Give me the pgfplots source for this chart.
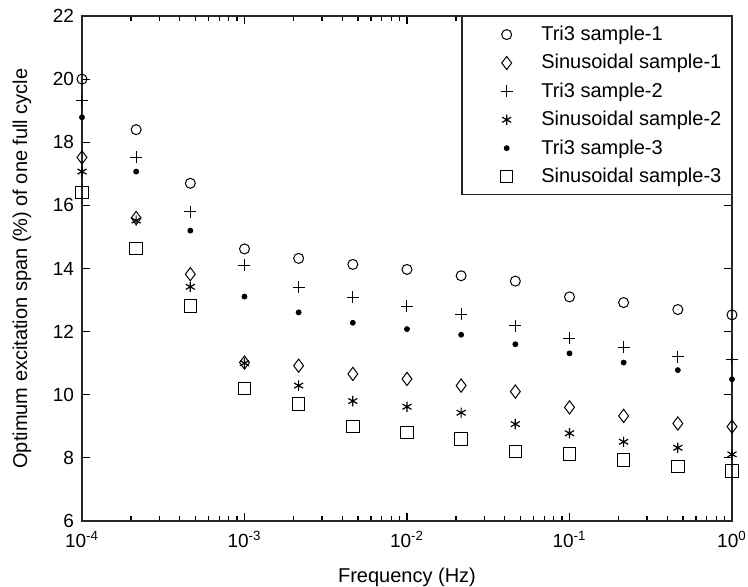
\documentclass[border=0pt]{standalone}
\usepackage{fontspec}
\setmainfont{Liberation Sans}
\usepackage{pgfplots}
\pgfplotsset{compat=1.18}
\begin{document}
\begin{tikzpicture}
\path[use as bounding box] (-41pt,-33pt) rectangle (333pt,260.5pt);
\begin{axis}[
  scale only axis,
  width=325pt, height=252.5pt,
  xmode=log,
  xmin=1e-4, xmax=1, ymin=6, ymax=22,
  xtick={1e-4,1e-3,1e-2,1e-1,1},
  minor xtick={2e-4,3e-4,4e-4,5e-4,6e-4,7e-4,8e-4,9e-4,
               2e-3,3e-3,4e-3,5e-3,6e-3,7e-3,8e-3,9e-3,
               2e-2,3e-2,4e-2,5e-2,6e-2,7e-2,8e-2,9e-2,
               2e-1,3e-1,4e-1,5e-1,6e-1,7e-1,8e-1,9e-1},
  xticklabels={10\textsuperscript{-4},10\textsuperscript{-3},10\textsuperscript{-2},10\textsuperscript{-1},10\textsuperscript{0}},
  ytick={6,8,10,12,14,16,18,20,22},
  yticklabels={6,8,10,12,14,16,18,20,22},
  tick align=inside,
  major tick length=4pt, minor tick length=2.4pt,
  tick style={black, line width=0.6pt},
  minor tick style={black, line width=0.6pt},
  axis line style={line width=0.6pt, black!85},
  ticklabel style={font=\fontsize{9.5}{11}\selectfont},
  xticklabel style={yshift=-1.5pt},
  yticklabel style={xshift=-0.5pt},
  every axis x label/.style={at={(axis description cs:0.5,-0.111)}, anchor=center},
  every axis y label/.style={at={(axis description cs:-0.0923,0.5)}, rotate=90, anchor=center},
  label style={font=\fontsize{10}{12}\selectfont},
  xlabel={Frequency (Hz)},
  ylabel={Optimum excitation span (\%) of one full cycle},
  legend style={at={(1,1)}, anchor=north east, draw=black!85, line width=0.6pt,
    inner xsep=5pt, inner ysep=4pt, row sep=4.2pt,
    font=\fontsize{10}{12}\selectfont,
    nodes={inner sep=0pt, text height=8pt, text depth=2pt, anchor=west}},
  legend cell align=left,
  legend image code/.code={\path (-17pt,0pt) (17pt,0pt); \draw[#1] plot coordinates {(0pt,0pt)};},
  every axis plot/.append style={only marks, black, line width=0.5pt},
]
\addplot[mark=o, mark size=2.5pt] coordinates {
(1e-4,20.0)(2.154e-4,18.4)(4.642e-4,16.7)(1e-3,14.62)(2.154e-3,14.32)(4.642e-3,14.13)(1e-2,13.97)(2.154e-2,13.77)(4.642e-2,13.6)(1e-1,13.1)(2.154e-1,12.92)(4.642e-1,12.7)(1,12.53)};
\addlegendentry{Tri3 sample-1}
\addplot[mark=diamond, mark size=3.3pt] coordinates {
(1e-4,17.52)(2.154e-4,15.6)(4.642e-4,13.82)(1e-3,11.02)(2.154e-3,10.92)(4.642e-3,10.66)(1e-2,10.5)(2.154e-2,10.29)(4.642e-2,10.1)(1e-1,9.6)(2.154e-1,9.33)(4.642e-1,9.09)(1,8.99)};
\addlegendentry{Sinusoidal sample-1}
\addplot[mark=+, mark size=3pt] coordinates {
(1e-4,19.32)(2.154e-4,17.52)(4.642e-4,15.8)(1e-3,14.11)(2.154e-3,13.4)(4.642e-3,13.09)(1e-2,12.81)(2.154e-2,12.55)(4.642e-2,12.18)(1e-1,11.79)(2.154e-1,11.5)(4.642e-1,11.2)(1,11.12)};
\addlegendentry{Tri3 sample-2}
\addplot[mark=asterisk, mark size=2.6pt, line width=0.6pt] coordinates {
(1e-4,17.07)(2.154e-4,15.52)(4.642e-4,13.42)(1e-3,11.0)(2.154e-3,10.29)(4.642e-3,9.8)(1e-2,9.62)(2.154e-2,9.43)(4.642e-2,9.07)(1e-1,8.78)(2.154e-1,8.51)(4.642e-1,8.32)(1,8.11)};
\addlegendentry{Sinusoidal sample-2}
\addplot[mark=*, mark size=1.2pt] coordinates {
(1e-4,18.79)(2.154e-4,17.07)(4.642e-4,15.2)(1e-3,13.11)(2.154e-3,12.61)(4.642e-3,12.28)(1e-2,12.08)(2.154e-2,11.9)(4.642e-2,11.6)(1e-1,11.31)(2.154e-1,11.02)(4.642e-1,10.78)(1,10.49)};
\addlegendentry{Tri3 sample-3}
\addplot[mark=square, mark size=3.1pt] coordinates {
(1e-4,16.4)(2.154e-4,14.64)(4.642e-4,12.81)(1e-3,10.19)(2.154e-3,9.71)(4.642e-3,8.99)(1e-2,8.8)(2.154e-2,8.6)(4.642e-2,8.2)(1e-1,8.12)(2.154e-1,7.93)(4.642e-1,7.72)(1,7.58)};
\addlegendentry{Sinusoidal sample-3}
\end{axis}
\end{tikzpicture}
\end{document}
